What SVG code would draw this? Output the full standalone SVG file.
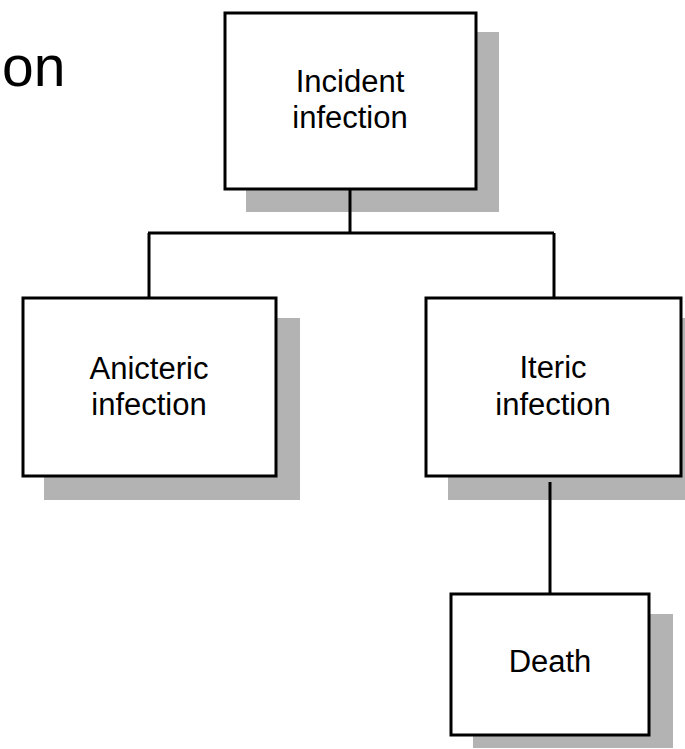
<svg xmlns="http://www.w3.org/2000/svg" width="685" height="749" viewBox="0 0 685 749">
<style>
.shadow{fill:#b3b3b3;stroke:none}
.box{fill:#ffffff;stroke:#000000;stroke-width:3}
.lbl{font-family:"Liberation Sans",Arial,sans-serif;font-size:31px;fill:#000000;text-anchor:middle}
.conn{stroke:#000000;stroke-width:3;fill:none}
</style>
<rect width="685" height="749" fill="#ffffff"/>
<text x="2" y="86" font-family="Liberation Sans, Arial, sans-serif" font-size="57" fill="#000000">on</text>
<g id="incident">
<rect class="shadow" x="246" y="32" width="253" height="180"/>
<rect class="box" x="225" y="13" width="251" height="176"/>
<text class="lbl" x="350" y="92">Incident</text>
<text class="lbl" x="350" y="128">infection</text>
</g>
<g id="anicteric">
<rect class="shadow" x="44" y="318" width="256" height="182"/>
<rect class="box" x="23" y="298" width="253" height="178"/>
<text class="lbl" x="149" y="379">Anicteric</text>
<text class="lbl" x="149" y="415">infection</text>
</g>
<g id="iteric">
<rect class="shadow" x="448" y="318" width="240" height="182"/>
<rect class="box" x="426" y="298" width="255" height="178"/>
<text class="lbl" x="553" y="378">Iteric</text>
<text class="lbl" x="553" y="415">infection</text>
</g>
<g id="death">
<rect class="shadow" x="473" y="614" width="200" height="134"/>
<rect class="box" x="451" y="594" width="198" height="141"/>
<text class="lbl" x="550" y="672">Death</text>
</g>
<g id="connectors">
<line class="conn" x1="350" y1="189" x2="350" y2="233"/>
<line class="conn" x1="148" y1="233" x2="554" y2="233"/>
<line class="conn" x1="149" y1="233" x2="149" y2="297"/>
<line class="conn" x1="554" y1="233" x2="554" y2="297"/>
<line class="conn" x1="550" y1="482" x2="550" y2="593"/>
</g>
</svg>
